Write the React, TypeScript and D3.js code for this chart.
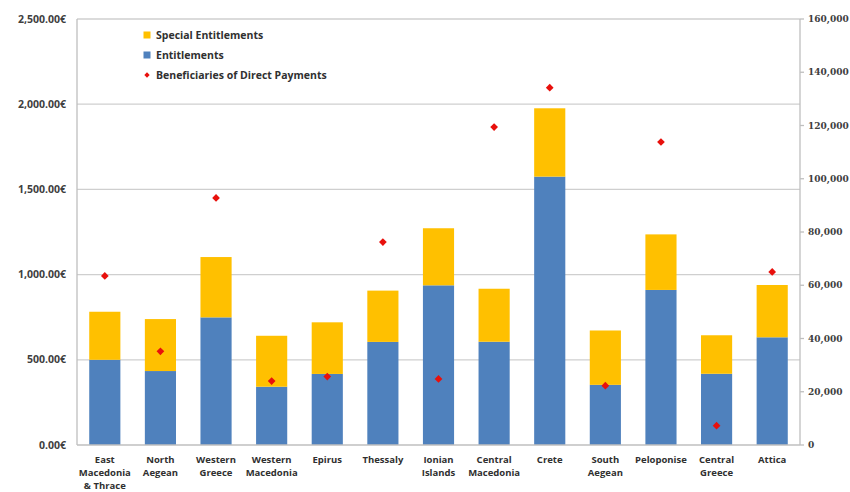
import React, { useEffect, useRef } from "react";
import * as d3 from "d3";

const regions: string[][] = [
  ["East", "Macedonia", "& Thrace"],
  ["North", "Aegean"],
  ["Western", "Greece"],
  ["Western", "Macedonia"],
  ["Epirus"],
  ["Thessaly"],
  ["Ionian", "Islands"],
  ["Central", "Macedonia"],
  ["Crete"],
  ["South", "Aegean"],
  ["Peloponise"],
  ["Central", "Greece"],
  ["Attica"],
];

const entitlements: number[] = [
  500, 434, 749, 342, 417, 605, 937, 606, 1575, 353, 910, 418, 632,
];
const specialEntitlements: number[] = [
  282, 305, 354, 299, 303, 301, 335, 311, 401, 319, 326, 226, 307,
];
const beneficiaries: number[] = [
  63500, 35200, 92800, 24000, 25700, 76200, 24800, 119400, 134200, 22300,
  113800, 7250, 65000,
];

const leftTicks: number[] = [0, 500, 1000, 1500, 2000, 2500];
const rightTicks: number[] = [
  0, 20000, 40000, 60000, 80000, 100000, 120000, 140000, 160000,
];

const legendItems = [
  { label: "Special Entitlements", color: "#FFC000", shape: "square" },
  { label: "Entitlements", color: "#4F81BD", shape: "square" },
  { label: "Beneficiaries of Direct Payments", color: "#E8100C", shape: "diamond" },
];

const width = 850;
const height = 492;
const margin = { top: 19, right: 50, bottom: 47, left: 77 };

const App: React.FC = () => {
  const chartRef = useRef<SVGSVGElement>(null);

  useEffect(() => {
    if (!chartRef.current) return;
    const svg = d3.select(chartRef.current);
    svg.selectAll("*").remove();

    const x0 = margin.left;
    const x1 = width - margin.right;
    const y0 = height - margin.bottom;
    const y1 = margin.top;

    const x = d3
      .scaleBand<number>()
      .domain(d3.range(regions.length))
      .range([x0, x1])
      .paddingInner(0.44)
      .paddingOuter(0.22);
    const yLeft = d3.scaleLinear().domain([0, 2500]).range([y0, y1]);
    const yRight = d3.scaleLinear().domain([0, 160000]).range([y0, y1]);

    const sans = "'Open Sans', 'DejaVu Sans', sans-serif";

    // gridlines from left axis
    svg
      .append("g")
      .selectAll("line")
      .data(leftTicks.filter((t) => t > 0))
      .enter()
      .append("line")
      .attr("x1", x0)
      .attr("x2", x1)
      .attr("y1", (d) => yLeft(d))
      .attr("y2", (d) => yLeft(d))
      .attr("stroke", "#CFCFCF")
      .attr("stroke-width", 1.3);

    // bars
    const bars = svg.append("g");
    bars
      .selectAll("rect.ent")
      .data(entitlements)
      .enter()
      .append("rect")
      .attr("class", "ent")
      .attr("x", (d, i) => x(i)!)
      .attr("width", x.bandwidth())
      .attr("y", (d) => yLeft(d))
      .attr("height", (d) => y0 - yLeft(d))
      .attr("fill", "#4F81BD");
    bars
      .selectAll("rect.spec")
      .data(specialEntitlements)
      .enter()
      .append("rect")
      .attr("class", "spec")
      .attr("x", (d, i) => x(i)!)
      .attr("width", x.bandwidth())
      .attr("y", (d, i) => yLeft(entitlements[i] + d))
      .attr("height", (d, i) => yLeft(entitlements[i]) - yLeft(entitlements[i] + d))
      .attr("fill", "#FFC000");

    // axis lines
    const axisColor = "#BFBFBF";
    svg.append("line").attr("x1", x0).attr("x2", x0).attr("y1", y1).attr("y2", y0)
      .attr("stroke", axisColor).attr("stroke-width", 1.3);
    svg.append("line").attr("x1", x1).attr("x2", x1).attr("y1", y1).attr("y2", y0)
      .attr("stroke", axisColor).attr("stroke-width", 1.3);
    svg.append("line").attr("x1", x0).attr("x2", x1).attr("y1", y0).attr("y2", y0)
      .attr("stroke", axisColor).attr("stroke-width", 1.3);

    // diamonds
    const diamond = d3.symbol().type(d3.symbolDiamond2).size(38);
    svg
      .append("g")
      .selectAll("path")
      .data(beneficiaries)
      .enter()
      .append("path")
      .attr("d", diamond)
      .attr("transform", (d, i) => `translate(${x(i)! + x.bandwidth() / 2},${yRight(d)})`)
      .attr("fill", "#E8100C");

    // left axis labels
    const fmtLeft = d3.format(",.2f");
    svg
      .append("g")
      .selectAll("text")
      .data(leftTicks)
      .enter()
      .append("text")
      .attr("x", x0 - 11)
      .attr("y", (d) => yLeft(d))
      .attr("dy", "0.35em")
      .attr("text-anchor", "end")
      .style("font-family", sans)
      .style("font-size", "10.5px")
      .style("font-weight", "bold")
      .style("fill", "#404040")
      .text((d) => `${fmtLeft(d)}€`);

    // right axis ticks and labels
    const right = svg.append("g");
    right
      .selectAll("line")
      .data(rightTicks)
      .enter()
      .append("line")
      .attr("x1", x1)
      .attr("x2", x1 + 4)
      .attr("y1", (d) => yRight(d))
      .attr("y2", (d) => yRight(d))
      .attr("stroke", axisColor)
      .attr("stroke-width", 1.3);
    const fmtRight = d3.format(",");
    right
      .selectAll("text")
      .data(rightTicks)
      .enter()
      .append("text")
      .attr("x", x1 + 8)
      .attr("y", (d) => yRight(d))
      .attr("dy", "0.35em")
      .style("font-family", "'DejaVu Serif', serif")
      .style("font-size", "9px")
      .style("font-weight", "bold")
      .style("fill", "#404040")
      .text((d) => fmtRight(d));

    // category labels
    const cats = svg
      .append("g")
      .selectAll("text")
      .data(regions)
      .enter()
      .append("text")
      .attr("x", (d, i) => x(i)! + x.bandwidth() / 2)
      .attr("y", y0 + 18)
      .attr("text-anchor", "middle")
      .style("font-family", sans)
      .style("font-size", "9.5px")
      .style("font-weight", "bold")
      .style("fill", "#303030");
    cats
      .selectAll("tspan")
      .data((d) => d)
      .enter()
      .append("tspan")
      .attr("x", function () {
        return (this.parentNode as SVGTextElement).getAttribute("x");
      })
      .attr("dy", (d, i) => (i === 0 ? 0 : 13))
      .text((d) => d);

    // legend
    const legend = svg
      .append("g")
      .selectAll("g")
      .data(legendItems)
      .enter()
      .append("g")
      .attr("transform", (d, i) => `translate(147,${35 + i * 20})`);
    legend
      .filter((d) => d.shape === "square")
      .append("rect")
      .attr("x", -3.5)
      .attr("y", -3.5)
      .attr("width", 7)
      .attr("height", 7)
      .attr("fill", (d) => d.color);
    legend
      .filter((d) => d.shape === "diamond")
      .append("path")
      .attr("d", d3.symbol().type(d3.symbolDiamond2).size(18))
      .attr("fill", (d) => d.color);
    legend
      .append("text")
      .attr("x", 9)
      .attr("dy", "0.35em")
      .style("font-family", sans)
      .style("font-size", "10.5px")
      .style("font-weight", "bold")
      .style("fill", "#303030")
      .text((d) => d.label);
  }, []);

  return (
    <svg
      ref={chartRef}
      width={width}
      height={height}
      style={{ position: "absolute", left: 0, top: 0, background: "#fff" }}
    />
  );
};

export default App;
